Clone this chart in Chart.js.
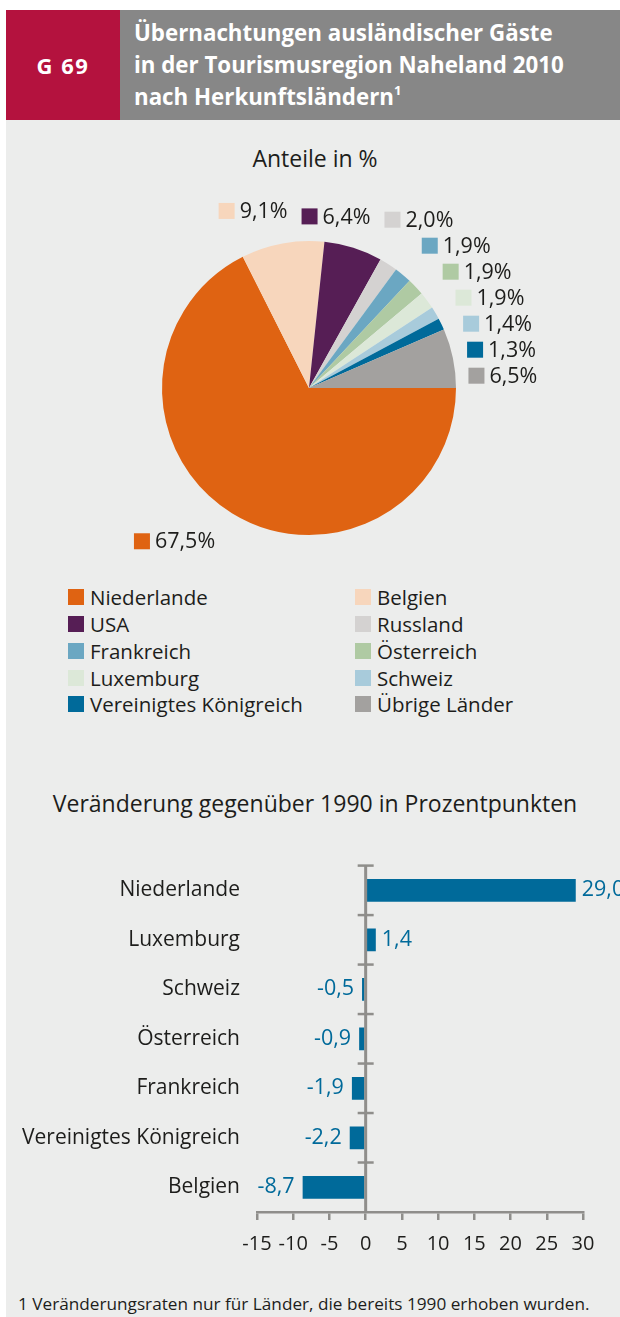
<!DOCTYPE html>
<html lang="de">
<head>
<meta charset="utf-8">
<script src="https://cdn.jsdelivr.net/npm/chart.js@4.4.1/dist/chart.umd.min.js"></script>
<style>
  body { margin: 0; width: 620px; height: 1317px; background: #fff; font-family: "Open Sans", sans-serif; color: #1d1d1b; overflow: hidden; position: relative; }
  #flaeche { position: absolute; left: 6px; top: 120px; width: 614px; height: 1197px; background: #ecedec; }
  #kennung { position: absolute; left: 6px; top: 10px; width: 114px; height: 110px; background: #b4123e; color: #fff; font-weight: 700; font-size: 22px; letter-spacing: 1.5px; display: flex; align-items: center; justify-content: center; }
  #kopf { position: absolute; left: 120px; top: 10px; width: 500px; height: 110px; background: #878787; color: #fff; font-weight: 700; font-size: 22.3px; line-height: 32px; box-sizing: border-box; padding: 7px 0 0 14px; white-space: nowrap; }
  #kopf sup { font-size: 13px; line-height: 0; position: relative; top: -2px; }
  .titel { position: absolute; left: 10px; width: 610px; text-align: center; font-size: 23px; line-height: 28px; }
  #kreisBox { position: absolute; left: 0; top: 130px; }
  #balkenBox { position: absolute; left: 0; top: 844px; }
  #legende { position: absolute; left: 68px; top: 584px; display: grid; grid-template-columns: 287px 240px; grid-auto-rows: 26.75px; font-size: 20.5px; }
  .eintrag { display: flex; align-items: center; white-space: nowrap; }
  .eintrag .box { width: 16px; height: 16px; margin-right: 6px; flex: none; }
  #fussnote { position: absolute; left: 18px; top: 1293px; font-size: 17.2px; line-height: 22px; white-space: nowrap; }
</style>
</head>
<body>
<div id="flaeche"></div>
<div id="kennung">G 69</div>
<div id="kopf">Übernachtungen ausländischer Gäste<br>in der Tourismusregion Naheland 2010<br>nach Herkunftsländern<sup>1</sup></div>

<div class="titel" style="top:144px">Anteile in %</div>
<div id="kreisBox"><canvas id="kreis" width="620" height="450"></canvas></div>
<div id="legende"></div>

<div class="titel" style="top:789px">Veränderung gegenüber 1990 in Prozentpunkten</div>
<div id="balkenBox"><canvas id="balken" width="620" height="416"></canvas></div>

<div id="fussnote">1 Veränderungsraten nur für Länder, die bereits 1990 erhoben wurden.</div>

<script>
// Anteile 2010 in %
const laender = ["Niederlande", "Belgien", "USA", "Russland", "Frankreich", "Österreich", "Luxemburg", "Schweiz", "Vereinigtes Königreich", "Übrige Länder"];
const anteile = [67.5, 9.1, 6.4, 2.0, 1.9, 1.9, 1.9, 1.4, 1.3, 6.5];
const farben = ["#df6312", "#f7d6bc", "#561e55", "#d4d2d1", "#6ba7c2", "#afcaa3", "#dce8d8", "#a8cbdb", "#006a9a", "#a3a19f"];

// Veränderung gegenüber 1990 in Prozentpunkten
const vergleichLaender = ["Niederlande", "Luxemburg", "Schweiz", "Österreich", "Frankreich", "Vereinigtes Königreich", "Belgien"];
const veraenderung = [29.0, 1.4, -0.5, -0.9, -1.9, -2.2, -8.7];
const achseMin = -15;
const achseMax = 30;
const achseSchritt = 5;

const textFarbe = "#1d1d1b";
const blau = "#006a9a";
const grau = "#8f8e8b";

Chart.defaults.font.family = "'Open Sans', sans-serif";
Chart.defaults.font.size = 20;
Chart.defaults.color = textFarbe;

const zahl = v => v.toFixed(1).replace(".", ",");

// Beschriftungen am Kreis: Kästchen + Prozentwert.
// Seitliche Beschriftungen werden senkrecht gestapelt, die oben liegenden waagerecht nebeneinander.
const anteilLabels = {
    id: "anteilLabels",
    afterDatasetsDraw(chart) {
        const ctx = chart.ctx;
        const arcs = chart.getDatasetMeta(0).data;
        const cx = arcs[0].x, cy = arcs[0].y, r = arcs[0].outerRadius;
        ctx.save();
        ctx.font = "21.5px 'Open Sans'";
        const ax = r + 47, ay = r + 41, zeile = 26, luecke = 14;
        const labels = arcs.map((a, i) => {
            const w = (a.startAngle + a.endAngle) / 2;
            const text = zahl(anteile[i]) + "%";
            return { i, w, text, b: 16 + 5 + ctx.measureText(text).width, oben: Math.abs(Math.sin(w)) > 0.93 };
        });
        // x auf einer gerundeten Ellipse zu gegebenem y
        const randX = (y, seite) => {
            const t = Math.min(Math.abs(y - cy) / ay, 1);
            return cx + seite * ax * Math.pow(1 - Math.pow(t, 2.5), 0.4);
        };
        [1, -1].forEach(seite => {
            const gruppe = labels.filter(l => !l.oben && Math.sign(Math.cos(l.w)) === seite);
            gruppe.forEach(l => { l.y = cy + (Math.sin(l.w) < 0 ? r + 53 : r + 33) * Math.sin(l.w); });
            gruppe.sort((a, b) => a.y - b.y);
            let letzte = -Infinity;
            gruppe.forEach(l => {
                l.y = Math.max(l.y, letzte + zeile);
                letzte = l.y;
                l.x = randX(l.y, seite);
            });
        });
        // obere Reihe von rechts nach links, Abstand zur ersten seitlichen Beschriftung rechts
        const seitlich = labels.filter(l => !l.oben && Math.cos(l.w) > 0).sort((a, b) => a.y - b.y);
        let grenze = seitlich.length ? seitlich[0].x - seitlich[0].b / 2 - luecke : Infinity;
        labels.filter(l => l.oben).sort((a, b) => b.w - a.w).forEach(l => {
            l.y = cy + (r + 33) * Math.sin(l.w);
            l.x = Math.min(cx + ax * Math.cos(l.w), grenze - l.b / 2);
            grenze = l.x - l.b / 2 - luecke;
        });
        ctx.textBaseline = "middle";
        ctx.textAlign = "left";
        labels.forEach(l => {
            const links = l.x - l.b / 2;
            ctx.fillStyle = farben[l.i];
            ctx.fillRect(links, l.y - 8, 16, 16);
            ctx.fillStyle = textFarbe;
            ctx.fillText(l.text, links + 21, l.y + 1);
        });
        ctx.restore();
    }
};

new Chart(document.getElementById("kreis"), {
    type: "pie",
    data: {
        labels: laender,
        datasets: [{
            data: anteile,
            backgroundColor: farben,
            borderWidth: 0,
            hoverOffset: 0
        }]
    },
    options: {
        responsive: false,
        animation: false,
        rotation: 90,
        layout: { padding: { top: 111, bottom: 45, left: 162, right: 164 } },
        plugins: { legend: { display: false }, tooltip: { enabled: false } }
    },
    plugins: [anteilLabels]
});

// Legende in zwei Spalten
const legende = document.getElementById("legende");
laender.forEach((name, i) => {
    const el = document.createElement("div");
    el.className = "eintrag";
    el.innerHTML = `<span class="box" style="background:${farben[i]}"></span>${name}`;
    legende.appendChild(el);
});

// Nulllinie mit Trennstrichen und Wertbeschriftungen
const nullLinie = {
    id: "nullLinie",
    afterDatasetsDraw(chart) {
        const { ctx, chartArea, scales: { x, y } } = chart;
        const x0 = x.getPixelForValue(0);
        const band = (chartArea.bottom - chartArea.top) / vergleichLaender.length;
        ctx.save();
        ctx.strokeStyle = grau;
        ctx.lineWidth = 3;
        ctx.beginPath();
        ctx.moveTo(x0, chartArea.top);
        ctx.lineTo(x0, chartArea.bottom);
        ctx.stroke();
        ctx.lineWidth = 2.5;
        for (let i = 0; i < vergleichLaender.length; i++) {
            const yy = y.getPixelForValue(i) - band / 2;
            ctx.beginPath();
            ctx.moveTo(x0 - 8, yy);
            ctx.lineTo(x0 + 8, yy);
            ctx.stroke();
        }
        ctx.font = "21.5px 'Open Sans'";
        ctx.fillStyle = blau;
        ctx.textBaseline = "middle";
        chart.getDatasetMeta(0).data.forEach((bar, i) => {
            const v = veraenderung[i];
            ctx.textAlign = v >= 0 ? "left" : "right";
            ctx.fillText(zahl(v), bar.x + (v >= 0 ? 6 : -8), bar.y);
        });
        ctx.restore();
    }
};

new Chart(document.getElementById("balken"), {
    type: "bar",
    data: {
        labels: vergleichLaender,
        datasets: [{
            data: veraenderung,
            backgroundColor: blau,
            borderWidth: 0,
            categoryPercentage: 1,
            barPercentage: 0.46
        }]
    },
    options: {
        responsive: false,
        animation: false,
        indexAxis: "y",
        layout: { padding: { top: 3, right: 37, bottom: 4, left: 0 } },
        plugins: { legend: { display: false }, tooltip: { enabled: false } },
        scales: {
            x: {
                min: achseMin,
                max: achseMax,
                ticks: { stepSize: achseSchritt, padding: 12, color: textFarbe },
                grid: { drawOnChartArea: false, color: grau, lineWidth: 2.5, tickLength: 8 },
                border: { color: grau, width: 2.5 },
                afterFit: s => { s.height = 44; }
            },
            y: {
                grid: { display: false },
                border: { display: false },
                ticks: { padding: 9, color: textFarbe, font: { size: 21 } },
                afterFit: s => { s.width = 257; }
            }
        }
    },
    plugins: [nullLinie]
});
</script>
</body>
</html>
